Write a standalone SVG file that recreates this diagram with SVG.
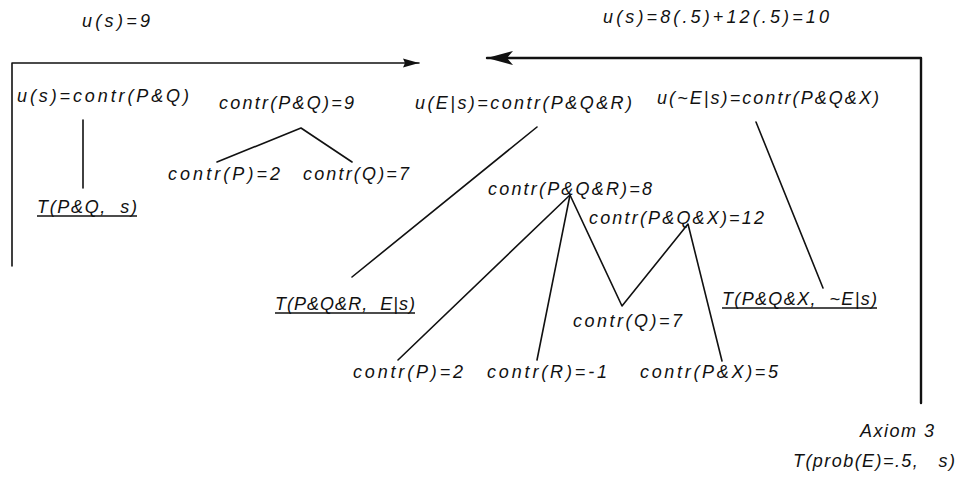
<svg xmlns="http://www.w3.org/2000/svg" width="958" height="480" viewBox="0 0 958 480">
<style>
text { font-family: "Liberation Sans", Arial, Helvetica, sans-serif; font-style: italic; font-size: 18px; fill: #111; white-space: pre; }
.ul { stroke: #111; stroke-width: 1.4; }
.ln { stroke: #111; stroke-width: 1.6; fill: none; stroke-linecap: round; stroke-linejoin: round; }
.thick { stroke-width: 2.4; }
</style>
<defs>
<marker id="ahSmall" markerUnits="userSpaceOnUse" markerWidth="18" markerHeight="12" refX="16" refY="6" orient="auto">
<path d="M0,1.5 L16,6 L0,10.5 L2,6 Z" fill="#111"/>
</marker>
<marker id="ahBig" markerUnits="userSpaceOnUse" markerWidth="28" markerHeight="18" refX="26" refY="9" orient="auto">
<path d="M0,2 L26,9 L0,16 L6,9 Z" fill="#111"/>
</marker>
</defs>
<rect width="958" height="480" fill="#fff"/>
<g id="connectors">
<polyline class="ln" points="12,266 12,63 419,63" marker-end="url(#ahSmall)"/>
<polyline class="ln thick" points="921,403 921,58 487,58" marker-end="url(#ahBig)"/>
<line class="ln" x1="83" y1="120" x2="83" y2="188"/>
<polyline class="ln" points="217,162 301,128 352,162"/>
<line class="ln" x1="537" y1="127" x2="352" y2="277"/>
<line class="ln" x1="756" y1="122" x2="823" y2="288"/>
<line class="ln" x1="570" y1="195" x2="398" y2="360"/>
<line class="ln" x1="570" y1="195" x2="537" y2="360"/>
<polyline class="ln" points="570,195 622,306 688,224 722,361"/>
</g>
<g id="n-us9"><text x="82" y="27" textLength="68" lengthAdjust="spacing">u(s)=9</text></g>
<g id="n-us10"><text x="603" y="23" textLength="226" lengthAdjust="spacing">u(s)=8(.5)+12(.5)=10</text></g>
<g id="n-uscontr"><text x="17" y="102" textLength="172" lengthAdjust="spacing">u(s)=contr(P&amp;Q)</text></g>
<g id="n-TPQs"><text x="37" y="213" textLength="100" lengthAdjust="spacing">T(P&amp;Q,  s)</text><line class="ul" x1="37" y1="216" x2="137" y2="216"/></g>
<g id="n-cPQ"><text x="219" y="109" textLength="135" lengthAdjust="spacing">contr(P&amp;Q)=9</text></g>
<g id="n-cP1"><text x="168" y="180" textLength="112" lengthAdjust="spacing">contr(P)=2</text></g>
<g id="n-cQ1"><text x="303" y="180" textLength="106" lengthAdjust="spacing">contr(Q)=7</text></g>
<g id="n-uEs"><text x="415" y="109" textLength="217" lengthAdjust="spacing">u(E|s)=contr(P&amp;Q&amp;R)</text></g>
<g id="n-unEs"><text x="657" y="104" textLength="222" lengthAdjust="spacing">u(~E|s)=contr(P&amp;Q&amp;X)</text></g>
<g id="n-cPQR"><text x="488" y="195" textLength="164" lengthAdjust="spacing">contr(P&amp;Q&amp;R)=8</text></g>
<g id="n-cPQX"><text x="589" y="224" textLength="175" lengthAdjust="spacing">contr(P&amp;Q&amp;X)=12</text></g>
<g id="n-cQ2"><text x="573" y="327" textLength="109" lengthAdjust="spacing">contr(Q)=7</text></g>
<g id="n-TPQR"><text x="275" y="310" textLength="140" lengthAdjust="spacing">T(P&amp;Q&amp;R,  E|s)</text><line class="ul" x1="275" y1="313" x2="415" y2="313"/></g>
<g id="n-TPQX"><text x="722" y="305" textLength="155" lengthAdjust="spacing">T(P&amp;Q&amp;X,  ~E|s)</text><line class="ul" x1="722" y1="308" x2="877" y2="308"/></g>
<g id="n-cP2"><text x="353" y="378" textLength="110" lengthAdjust="spacing">contr(P)=2</text></g>
<g id="n-cR"><text x="487" y="378" textLength="120" lengthAdjust="spacing">contr(R)=-1</text></g>
<g id="n-cPX"><text x="640" y="378" textLength="138" lengthAdjust="spacing">contr(P&amp;X)=5</text></g>
<g id="n-axiom"><text x="860" y="437" textLength="74" lengthAdjust="spacing">Axiom 3</text></g>
<g id="n-Tprob"><text x="793" y="467" textLength="162" lengthAdjust="spacing">T(prob(E)=.5,   s)</text></g>
</svg>
